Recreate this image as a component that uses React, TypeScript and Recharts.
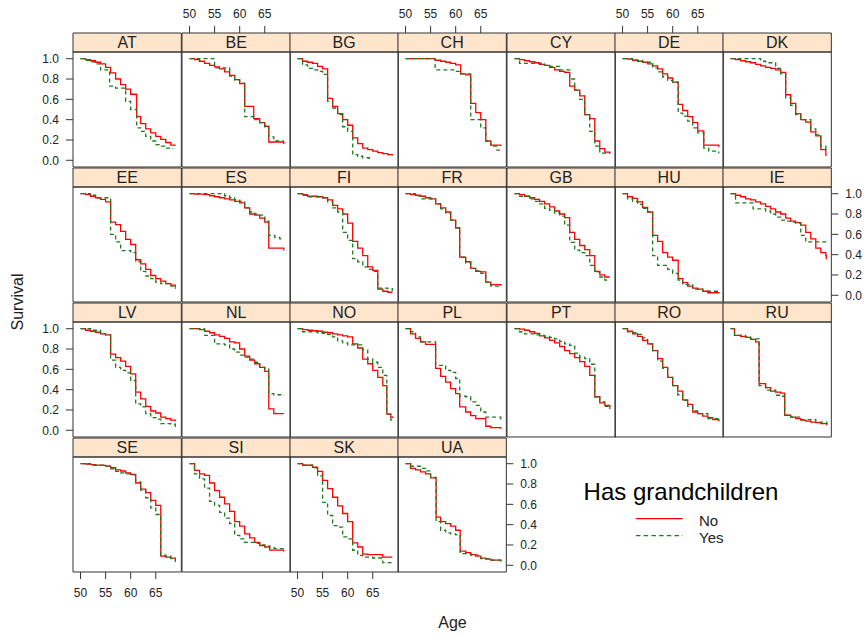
import { LineChart, Line, XAxis, YAxis, ReferenceArea } from 'recharts';

type Pt = [number, number];

const COUNTRIES = [
  'AT', 'BE', 'BG', 'CH', 'CY', 'DE', 'DK',
  'EE', 'ES', 'FI', 'FR', 'GB', 'HU', 'IE',
  'LV', 'NL', 'NO', 'PL', 'PT', 'RO', 'RU',
  'SE', 'SI', 'SK', 'UA',
];
const AGE_TICKS = [50, 55, 60, 65];
const SURV_TICKS = [0, 0.2, 0.4, 0.6, 0.8, 1];

// survival curves: [age, survival], step after each point
const AT_NO: Pt[] = [[50, 1], [51, 0.99], [52, 0.98], [53, 0.965], [54, 0.95], [55, 0.915], [56, 0.86], [57, 0.8], [58, 0.745], [59, 0.7], [60, 0.65], [61.2, 0.43], [62, 0.36], [63, 0.31], [64, 0.27], [65, 0.235], [66, 0.205], [67, 0.175], [68, 0.15], [68.8, 0.14]];
const AT_YES: Pt[] = [[50, 1], [51, 0.985], [52, 0.97], [53, 0.95], [54, 0.89], [55.8, 0.73], [57, 0.71], [59, 0.58], [60, 0.5], [61.2, 0.32], [62, 0.285], [63, 0.235], [64, 0.19], [65, 0.155], [66, 0.14], [67, 0.12], [68, 0.115], [68.5, 0.115]];
const BE_NO: Pt[] = [[50, 1], [51, 0.99], [52, 0.975], [53, 0.955], [54, 0.935], [55, 0.92], [56, 0.9], [57, 0.87], [58, 0.835], [59, 0.795], [60, 0.755], [61, 0.53], [62.8, 0.41], [64, 0.37], [65, 0.335], [65.8, 0.18], [68.8, 0.16]];
const BE_YES: Pt[] = [[50, 1], [55, 0.91], [58, 0.83], [59, 0.79], [60, 0.76], [61, 0.43], [63, 0.4], [64, 0.37], [65, 0.33], [65.8, 0.23], [66.8, 0.19], [68.8, 0.19]];
const BG_NO: Pt[] = [[50, 1], [51, 0.975], [52, 0.965], [53, 0.955], [54, 0.925], [55, 0.9], [56, 0.61], [57, 0.53], [58, 0.46], [59, 0.4], [60, 0.345], [61, 0.22], [62, 0.165], [63, 0.12], [64, 0.105], [65, 0.09], [66, 0.075], [67, 0.065], [68, 0.055], [68.9, 0.046]];
const BG_YES: Pt[] = [[50, 1], [51, 0.94], [52, 0.905], [53, 0.89], [54, 0.875], [55, 0.845], [56, 0.58], [57, 0.515], [58, 0.45], [59, 0.33], [60, 0.285], [61, 0.056], [62, 0.04], [63, 0.025], [64.3, 0.007]];
const CH_NO: Pt[] = [[50, 1], [55.9, 0.985], [57, 0.975], [58, 0.965], [59, 0.955], [60, 0.94], [61, 0.85], [62, 0.84], [63, 0.56], [64, 0.47], [65, 0.4], [66, 0.19], [67, 0.15], [69, 0.14]];
const CH_YES: Pt[] = [[50, 1], [55.9, 0.89], [60, 0.875], [61, 0.85], [63, 0.4], [65, 0.32], [66, 0.19], [67, 0.14], [68.2, 0.1], [69, 0.095]];
const CY_NO: Pt[] = [[50, 1], [51, 0.99], [52, 0.98], [53, 0.97], [54, 0.96], [55, 0.945], [56, 0.935], [57, 0.915], [58, 0.89], [59, 0.875], [60, 0.865], [61, 0.73], [62, 0.69], [63, 0.635], [64, 0.45], [65, 0.41], [66, 0.19], [67, 0.115], [68, 0.08], [69, 0.07]];
const CY_YES: Pt[] = [[50, 1], [51, 0.955], [56, 0.935], [57, 0.925], [59, 0.89], [61, 0.8], [62, 0.69], [63, 0.6], [64, 0.45], [65, 0.285], [66, 0.14], [67, 0.07], [69, 0.065]];
const DE_NO: Pt[] = [[50, 1], [51, 0.995], [52, 0.985], [53, 0.975], [54, 0.965], [55, 0.95], [56, 0.93], [57, 0.9], [58, 0.85], [59, 0.81], [60, 0.77], [61.1, 0.55], [62, 0.49], [63, 0.43], [64, 0.37], [65, 0.29], [66.2, 0.15], [69.2, 0.13]];
const DE_YES: Pt[] = [[50, 1], [52, 0.985], [54, 0.965], [56, 0.91], [57, 0.87], [58, 0.82], [59, 0.785], [60, 0.77], [61.1, 0.465], [62, 0.435], [63, 0.385], [64, 0.32], [65, 0.27], [66.2, 0.12], [67.2, 0.09], [69.2, 0.07]];
const DK_NO: Pt[] = [[50, 1], [51, 0.99], [52, 0.98], [53, 0.97], [54, 0.96], [55, 0.945], [56, 0.93], [57, 0.915], [58, 0.905], [59, 0.89], [60, 0.865], [61, 0.645], [62, 0.56], [63, 0.46], [64, 0.4], [65, 0.375], [66, 0.28], [67, 0.24], [68, 0.105], [69, 0.05], [69.2, 0.05]];
const DK_YES: Pt[] = [[50, 1], [56, 0.975], [57, 0.96], [59, 0.905], [60, 0.85], [61, 0.615], [62, 0.54], [63, 0.45], [64, 0.4], [66, 0.31], [67, 0.25], [68, 0.14], [69, 0.09], [69.1, 0.09]];
const EE_NO: Pt[] = [[50, 1], [51, 0.99], [52, 0.975], [53, 0.96], [54, 0.945], [55, 0.92], [56, 0.72], [57, 0.695], [58, 0.63], [59, 0.55], [60, 0.5], [61, 0.35], [62, 0.31], [63, 0.255], [64, 0.195], [65, 0.165], [66, 0.14], [67, 0.115], [68, 0.1], [68.9, 0.075]];
const EE_YES: Pt[] = [[50, 1], [52, 0.985], [53, 0.96], [56, 0.6], [57, 0.525], [58, 0.44], [60, 0.42], [61, 0.33], [62, 0.235], [63, 0.19], [64, 0.165], [65, 0.13], [66, 0.115], [68, 0.09], [68.9, 0.065]];
const ES_NO: Pt[] = [[50, 1], [51, 0.995], [53, 0.99], [54, 0.98], [55, 0.97], [56, 0.96], [57, 0.95], [58, 0.94], [59, 0.925], [60, 0.91], [61, 0.86], [62, 0.8], [63, 0.79], [64, 0.76], [65, 0.72], [65.8, 0.465], [68.8, 0.44]];
const ES_YES: Pt[] = [[50, 1], [57, 0.98], [58, 0.96], [59, 0.94], [60, 0.925], [61, 0.86], [62, 0.82], [63, 0.8], [64, 0.79], [65, 0.73], [65.8, 0.59], [67, 0.57], [68, 0.555], [68.8, 0.555]];
const FI_NO: Pt[] = [[50, 1], [51, 0.99], [52, 0.975], [54, 0.97], [55, 0.96], [56, 0.94], [57, 0.885], [58, 0.85], [59, 0.8], [60, 0.71], [61, 0.53], [62, 0.465], [63, 0.39], [64, 0.28], [65, 0.245], [66, 0.06], [67, 0.04], [68, 0.03], [68.9, 0.03]];
const FI_YES: Pt[] = [[50, 1], [51, 0.985], [52, 0.97], [55, 0.96], [56, 0.92], [57, 0.86], [58, 0.82], [59, 0.62], [60, 0.54], [61, 0.36], [62, 0.33], [63, 0.28], [64, 0.255], [65, 0.235], [66, 0.07], [68, 0.065], [68.9, 0.04]];
const FR_NO: Pt[] = [[50, 1], [51, 0.99], [52, 0.985], [53, 0.975], [54, 0.96], [55, 0.95], [56, 0.9], [57, 0.86], [58, 0.82], [59, 0.74], [60, 0.665], [60.8, 0.375], [62, 0.33], [63, 0.265], [64, 0.235], [65, 0.23], [66, 0.13], [67, 0.105], [69, 0.092]];
const FR_YES: Pt[] = [[50, 1], [52, 0.98], [53, 0.95], [55, 0.95], [56, 0.9], [57, 0.85], [58, 0.81], [59, 0.74], [60, 0.665], [60.8, 0.375], [62, 0.32], [63, 0.265], [64, 0.24], [65, 0.215], [66, 0.13], [67, 0.09], [69, 0.09]];
const GB_NO: Pt[] = [[50, 1], [51, 0.99], [52, 0.975], [53, 0.96], [54, 0.945], [55, 0.925], [56, 0.9], [57, 0.87], [58, 0.83], [59, 0.8], [60, 0.765], [61, 0.62], [62, 0.55], [63, 0.49], [64, 0.45], [65, 0.39], [66, 0.235], [67, 0.2], [68, 0.18], [69, 0.18]];
const GB_YES: Pt[] = [[50, 1], [51, 0.975], [53, 0.95], [54, 0.925], [55, 0.9], [56, 0.855], [57, 0.835], [58, 0.81], [59, 0.78], [60, 0.69], [61, 0.52], [62, 0.445], [63, 0.42], [64, 0.39], [65, 0.295], [66, 0.23], [67, 0.18], [68, 0.15], [69, 0.15]];
const HU_NO: Pt[] = [[50, 1], [51, 0.97], [52, 0.955], [53, 0.92], [54, 0.865], [55, 0.82], [56, 0.59], [57, 0.53], [58, 0.42], [59, 0.375], [60, 0.345], [61.1, 0.165], [62, 0.125], [63, 0.09], [64, 0.07], [65, 0.06], [66, 0.04], [67, 0.025], [69.2, 0.017]];
const HU_YES: Pt[] = [[50, 1], [51, 0.95], [52, 0.925], [53, 0.895], [54, 0.855], [55, 0.82], [56, 0.39], [57, 0.295], [59, 0.255], [60, 0.215], [61.1, 0.15], [62, 0.105], [64, 0.06], [66, 0.04], [69.2, 0.03]];
const IE_NO: Pt[] = [[50, 1], [51, 0.985], [52, 0.97], [53, 0.95], [54, 0.94], [55, 0.92], [56, 0.9], [57, 0.875], [58, 0.85], [59, 0.82], [60, 0.8], [61, 0.76], [62, 0.73], [63, 0.715], [64, 0.69], [65, 0.62], [66, 0.555], [67, 0.465], [68, 0.42], [69, 0.39], [69.1, 0.355]];
const IE_YES: Pt[] = [[50, 1], [51, 0.91], [54.5, 0.85], [57, 0.83], [58, 0.8], [59, 0.77], [60, 0.74], [61, 0.73], [62, 0.72], [63, 0.71], [64, 0.59], [65, 0.525], [69.1, 0.525]];
const LV_NO: Pt[] = [[50, 1], [51, 0.985], [52, 0.975], [53, 0.965], [54, 0.95], [55, 0.94], [56, 0.75], [57, 0.715], [58, 0.68], [59, 0.63], [60, 0.555], [61, 0.375], [62, 0.31], [63, 0.235], [64, 0.19], [65, 0.17], [66, 0.13], [67, 0.115], [68, 0.1], [68.9, 0.09]];
const LV_YES: Pt[] = [[50, 1], [52, 0.985], [54, 0.95], [55, 0.94], [56, 0.69], [57, 0.62], [58, 0.59], [59, 0.565], [60, 0.49], [61, 0.26], [62, 0.23], [63, 0.165], [64, 0.125], [65, 0.11], [66, 0.065], [68, 0.06], [68.9, 0.02]];
const NL_NO: Pt[] = [[50, 1], [52, 0.99], [53, 0.975], [54, 0.96], [55, 0.94], [56, 0.925], [57, 0.905], [58, 0.87], [59, 0.86], [60, 0.8], [61, 0.73], [62, 0.69], [63, 0.655], [64, 0.62], [65, 0.58], [65.8, 0.21], [66.8, 0.165], [68.8, 0.165]];
const NL_YES: Pt[] = [[50, 1], [53, 0.935], [55, 0.85], [57, 0.84], [58, 0.8], [59, 0.77], [60, 0.74], [61, 0.72], [62, 0.7], [63, 0.67], [64, 0.62], [65, 0.605], [65.8, 0.36], [66.8, 0.35], [68.8, 0.34]];
const NO_NO: Pt[] = [[50, 1], [51, 0.99], [52, 0.985], [53, 0.98], [54, 0.975], [55, 0.965], [56, 0.96], [57, 0.95], [58, 0.94], [59, 0.93], [60, 0.92], [61, 0.85], [62, 0.81], [63, 0.7], [64, 0.655], [65, 0.59], [66, 0.52], [67, 0.44], [67.8, 0.16], [68.6, 0.13], [69, 0.12]];
const NO_YES: Pt[] = [[50, 1], [51, 0.97], [54, 0.96], [55, 0.955], [56, 0.945], [57, 0.92], [58, 0.88], [59, 0.86], [60, 0.84], [62, 0.84], [63, 0.79], [64, 0.7], [65, 0.67], [66, 0.62], [67, 0.54], [67.8, 0.16], [68.6, 0.1], [69, 0.08]];
const PL_NO: Pt[] = [[50, 1], [51, 0.95], [52, 0.905], [53, 0.87], [54, 0.845], [56, 0.61], [57, 0.53], [58, 0.475], [59, 0.41], [60, 0.36], [60.8, 0.23], [62, 0.18], [63, 0.145], [64, 0.115], [66, 0.04], [67, 0.026], [69, 0.016]];
const PL_YES: Pt[] = [[50, 1], [51, 0.97], [52, 0.92], [53, 0.87], [56, 0.64], [58, 0.59], [59, 0.57], [60, 0.51], [60.8, 0.335], [62, 0.33], [63, 0.28], [64, 0.245], [65, 0.18], [66, 0.13], [69, 0.105]];
const PT_NO: Pt[] = [[50, 1], [51, 0.995], [52, 0.985], [53, 0.97], [54, 0.955], [55, 0.93], [56, 0.91], [57, 0.885], [58, 0.86], [59, 0.825], [60, 0.785], [61, 0.755], [62, 0.715], [63, 0.675], [64, 0.63], [65, 0.54], [66, 0.33], [67, 0.27], [68, 0.245], [69, 0.21]];
const PT_YES: Pt[] = [[50, 1], [51, 0.97], [52, 0.95], [54, 0.94], [55, 0.935], [56, 0.925], [57, 0.915], [58, 0.9], [59, 0.875], [60, 0.85], [61, 0.835], [62, 0.76], [63, 0.72], [64, 0.705], [65, 0.65], [66, 0.33], [67, 0.28], [68, 0.235], [69, 0.215]];
const RO_NO: Pt[] = [[50, 1], [51, 0.975], [52, 0.95], [53, 0.925], [54, 0.885], [55, 0.85], [56, 0.785], [57, 0.705], [58, 0.62], [59, 0.52], [60, 0.44], [61, 0.385], [62, 0.3], [63, 0.255], [64, 0.18], [65, 0.165], [66, 0.14], [67, 0.125], [68, 0.105], [69.2, 0.09]];
const RO_YES: Pt[] = [[50, 1], [51, 0.97], [52, 0.96], [53, 0.945], [54, 0.91], [55, 0.85], [56, 0.785], [57, 0.68], [58, 0.61], [59, 0.52], [60, 0.44], [61, 0.35], [62, 0.295], [63, 0.235], [64, 0.19], [65, 0.165], [67, 0.115], [69.2, 0.115]];
const RU_NO: Pt[] = [[50, 1], [50.8, 0.935], [52, 0.925], [53, 0.915], [54, 0.895], [55, 0.87], [55.7, 0.46], [57, 0.42], [58, 0.385], [59, 0.375], [60, 0.365], [60.8, 0.148], [62, 0.13], [63, 0.115], [64, 0.1], [65, 0.09], [66, 0.08], [67, 0.075], [68, 0.065], [69.2, 0.05]];
const RU_YES: Pt[] = [[50, 1], [50.8, 0.935], [53, 0.92], [54, 0.9], [55.7, 0.44], [57, 0.395], [59, 0.345], [60, 0.335], [60.8, 0.148], [62, 0.13], [64, 0.105], [67, 0.08], [69.2, 0.06]];
const SE_NO: Pt[] = [[50, 1], [51, 0.997], [52, 0.99], [53, 0.987], [54, 0.984], [55, 0.977], [56, 0.96], [57, 0.94], [58, 0.928], [59, 0.91], [60, 0.895], [61, 0.81], [62, 0.75], [63, 0.715], [64, 0.64], [65, 0.59], [66, 0.09], [67, 0.08], [68, 0.07], [68.9, 0.066]];
const SE_YES: Pt[] = [[50, 1], [52, 0.985], [55, 0.977], [56, 0.95], [57, 0.925], [58, 0.91], [59, 0.9], [60, 0.89], [61, 0.82], [62, 0.74], [63, 0.665], [64, 0.565], [65, 0.5], [66, 0.1], [67, 0.09], [68, 0.065], [68.9, 0.023]];
const SI_NO: Pt[] = [[50, 1], [51, 0.935], [52, 0.9], [53, 0.885], [54, 0.81], [55, 0.735], [56, 0.67], [57, 0.605], [58, 0.53], [59, 0.43], [60, 0.385], [61, 0.31], [62, 0.27], [63, 0.225], [64, 0.195], [65, 0.18], [66, 0.15], [68.8, 0.135]];
const SI_YES: Pt[] = [[50, 1], [51, 0.9], [52, 0.85], [53, 0.76], [54, 0.63], [55, 0.59], [56, 0.52], [57, 0.465], [58, 0.41], [59, 0.295], [60, 0.26], [61, 0.225], [63, 0.215], [64, 0.2], [65, 0.19], [66, 0.17], [67, 0.165], [68.8, 0.15]];
const SK_NO: Pt[] = [[50, 1], [51, 0.985], [53, 0.965], [54, 0.925], [55, 0.835], [56, 0.755], [57, 0.67], [58, 0.585], [59, 0.51], [60, 0.43], [61, 0.22], [62, 0.18], [63, 0.11], [64, 0.105], [67, 0.08], [68.9, 0.08]];
const SK_YES: Pt[] = [[50, 1], [51, 0.985], [53, 0.96], [54, 0.88], [55, 0.62], [56, 0.49], [57, 0.39], [58, 0.375], [59, 0.28], [60, 0.26], [61, 0.148], [62, 0.098], [63, 0.08], [65, 0.072], [67, 0.026], [68.9, 0.026]];
const UA_NO: Pt[] = [[50, 1], [51, 0.955], [52, 0.94], [53, 0.92], [54, 0.9], [55, 0.86], [56.1, 0.475], [57, 0.43], [58, 0.41], [59, 0.385], [60, 0.345], [60.9, 0.14], [62, 0.125], [63, 0.105], [64, 0.09], [65, 0.07], [66, 0.06], [67, 0.05], [69, 0.04]];
const UA_YES: Pt[] = [[50, 1], [51, 0.975], [53, 0.955], [54, 0.93], [55, 0.865], [56.1, 0.43], [57, 0.345], [58, 0.32], [59, 0.31], [60, 0.3], [60.9, 0.115], [63, 0.1], [65, 0.065], [67, 0.05], [69, 0.035]];

const CURVES: Record<string, Pt[][]> = {
  AT: [AT_NO, AT_YES], BE: [BE_NO, BE_YES], BG: [BG_NO, BG_YES], CH: [CH_NO, CH_YES],
  CY: [CY_NO, CY_YES], DE: [DE_NO, DE_YES], DK: [DK_NO, DK_YES], EE: [EE_NO, EE_YES],
  ES: [ES_NO, ES_YES], FI: [FI_NO, FI_YES], FR: [FR_NO, FR_YES], GB: [GB_NO, GB_YES],
  HU: [HU_NO, HU_YES], IE: [IE_NO, IE_YES], LV: [LV_NO, LV_YES], NL: [NL_NO, NL_YES],
  NO: [NO_NO, NO_YES], PL: [PL_NO, PL_YES], PT: [PT_NO, PT_YES], RO: [RO_NO, RO_YES],
  RU: [RU_NO, RU_YES], SE: [SE_NO, SE_YES], SI: [SI_NO, SI_YES], SK: [SK_NO, SK_YES],
  UA: [UA_NO, UA_YES],
};

const FONT = '"Liberation Sans", Arial, sans-serif';
const RED = '#ff0000';
const GREEN = '#1f7a1f';
const INK = '#222';

// lattice layout
const X_DOMAIN: [number, number] = [48.5, 70.1];
const Y_MIN = -0.066;
const Y_MAX = 1.066;
const STRIP_H = 19;
const PANEL_H = 115;
const CELL_H = STRIP_H + PANEL_H;
const Y_TOP = Y_MAX + ((Y_MAX - Y_MIN) * STRIP_H) / PANEL_H; // strip sits inside the plot area
const COL_W = 108.34;
const LEFT0 = 73.3;
const TOP0 = 32.7;
const ROW_STEP = 135;
const PAD = 50;
const YW = 40;
const XH = 36;

const toRows = (pts: Pt[]) => pts.map(([age, s]) => ({ age, s }));

function Panel({ code, index }: { code: string; index: number }) {
  const col = index % 7;
  const row = Math.floor(index / 7);
  const onTop = row === 0;
  const onBottom = row === 3;
  const onLeft = col === 0;
  const onRight = col === 6 || index === COUNTRIES.length - 1;
  const xLabels = (onTop && col % 2 === 1) || (onBottom && col % 2 === 0);
  const yLabels = (onLeft && row % 2 === 0) || (onRight && row % 2 === 1);
  const [no, yes] = CURVES[code];

  const tickFont = { fill: INK, fontSize: 12, fontFamily: FONT };

  return (
    <div style={{ position: 'absolute', left: LEFT0 + col * COL_W - PAD, top: TOP0 + row * ROW_STEP - PAD }}>
      <LineChart
        width={COL_W + 2 * PAD}
        height={CELL_H + 2 * PAD}
        margin={{
          top: PAD - (onTop ? XH : 0),
          bottom: PAD - (onBottom ? XH : 0),
          left: PAD - (onLeft ? YW : 0),
          right: PAD - (onRight ? YW : 0),
        }}
      >
        <XAxis
          type="number"
          dataKey="age"
          domain={X_DOMAIN}
          ticks={AGE_TICKS}
          allowDataOverflow
          orientation={onBottom ? 'bottom' : 'top'}
          hide={!onTop && !onBottom}
          height={XH}
          axisLine={false}
          stroke="#333"
          tickSize={7}
          tickMargin={onTop ? 8 : 9}
          tick={xLabels ? tickFont : false}
        />
        <YAxis
          type="number"
          dataKey="s"
          domain={[Y_MIN, Y_TOP]}
          ticks={SURV_TICKS}
          allowDataOverflow
          orientation={onRight ? 'right' : 'left'}
          hide={!onLeft && !onRight}
          width={YW}
          axisLine={false}
          stroke="#333"
          tickSize={7}
          tickMargin={7}
          tick={yLabels ? tickFont : false}
          tickFormatter={(v: number) => v.toFixed(1)}
        />
        <ReferenceArea
          x1={X_DOMAIN[0]}
          x2={X_DOMAIN[1]}
          y1={Y_MAX}
          y2={Y_TOP}
          fill="#ffe5cc"
          fillOpacity={1}
          stroke="#333"
          strokeWidth={1}
          ifOverflow="visible"
          label={{ value: code, position: 'center', fill: INK, fontSize: 16, fontFamily: FONT }}
        />
        <ReferenceArea
          x1={X_DOMAIN[0]}
          x2={X_DOMAIN[1]}
          y1={Y_MIN}
          y2={Y_MAX}
          fill="none"
          fillOpacity={0}
          stroke="#333"
          strokeWidth={1}
          ifOverflow="visible"
        />
        <Line
          data={toRows(no)}
          dataKey="s"
          type="stepAfter"
          stroke={RED}
          strokeWidth={1.3}
          dot={false}
          isAnimationActive={false}
        />
        <Line
          data={toRows(yes)}
          dataKey="s"
          type="stepAfter"
          stroke={GREEN}
          strokeWidth={1.3}
          strokeDasharray="4 3"
          dot={false}
          isAnimationActive={false}
        />
      </LineChart>
    </div>
  );
}

export default function App() {
  return (
    <div style={{ position: 'absolute', left: 0, top: 0, width: 867, height: 634, background: '#fff', fontFamily: FONT, color: INK }}>
      {COUNTRIES.map((c, i) => (
        <Panel key={c} code={c} index={i} />
      ))}

      <div
        style={{
          position: 'absolute', left: 18, top: 302, fontSize: 16, lineHeight: 1,
          transform: 'translate(-50%, -50%) rotate(-90deg)', whiteSpace: 'nowrap',
        }}
      >
        Survival
      </div>
      <div
        style={{
          position: 'absolute', left: 452.5, top: 615, fontSize: 16, lineHeight: 1,
          transform: 'translateX(-50%)', whiteSpace: 'nowrap',
        }}
      >
        Age
      </div>

      {/* legend */}
      <div
        style={{
          position: 'absolute', left: 681, top: 480, fontSize: 24, lineHeight: 1,
          transform: 'translateX(-50%)', whiteSpace: 'nowrap', color: '#000',
        }}
      >
        Has grandchildren
      </div>
      <svg style={{ position: 'absolute', left: 630, top: 510 }} width={60} height={34}>
        <line x1={6} x2={52.7} y1={8.7} y2={8.7} stroke={RED} strokeWidth={1.3} />
        <line x1={6} x2={52.7} y1={25.7} y2={25.7} stroke={GREEN} strokeWidth={1.3} strokeDasharray="4.5 3.2" />
      </svg>
      <div style={{ position: 'absolute', left: 699, top: 512.7, fontSize: 15, lineHeight: 1 }}>No</div>
      <div style={{ position: 'absolute', left: 699, top: 529.7, fontSize: 15, lineHeight: 1 }}>Yes</div>
    </div>
  );
}
